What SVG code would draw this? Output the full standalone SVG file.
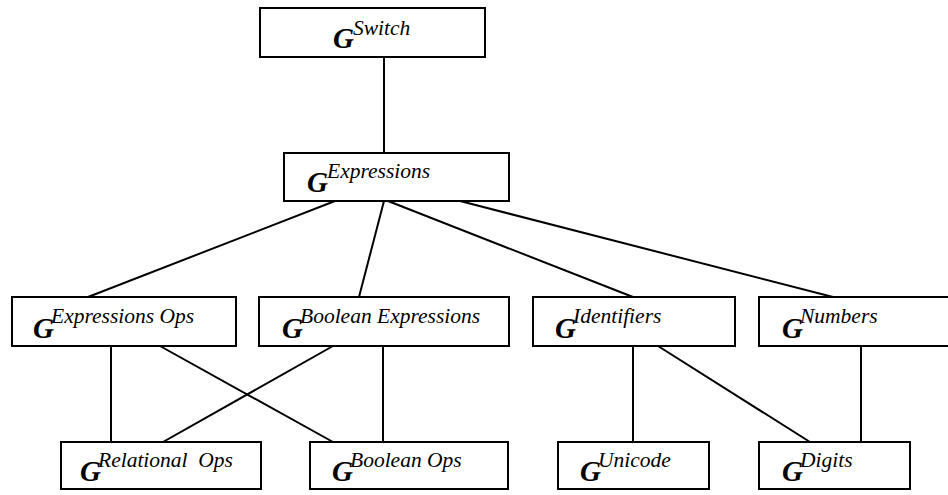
<svg xmlns="http://www.w3.org/2000/svg" width="948" height="495" viewBox="0 0 948 495">
<style>
.box{fill:#fff;stroke:#000;stroke-width:2}
.edge{stroke:#000;stroke-width:2;fill:none}
.g{font-family:"Liberation Serif",serif;font-style:italic;font-weight:bold;font-size:29px;fill:#000}
.s{font-family:"Liberation Serif",serif;font-style:italic;font-size:21.5px;fill:#000;white-space:pre}
</style>
<rect width="948" height="495" fill="#fff"/>
<g id="connectors">
<line class="edge" x1="384" y1="57" x2="384" y2="153"/>
<line class="edge" x1="335" y1="201" x2="88" y2="297"/>
<line class="edge" x1="384" y1="201" x2="359" y2="297"/>
<line class="edge" x1="388" y1="201" x2="633" y2="297"/>
<line class="edge" x1="460" y1="201" x2="833" y2="297"/>
<line class="edge" x1="111" y1="346" x2="111" y2="442"/>
<line class="edge" x1="160" y1="346" x2="333" y2="442"/>
<line class="edge" x1="333" y1="346" x2="163" y2="442"/>
<line class="edge" x1="383" y1="346" x2="383" y2="442"/>
<line class="edge" x1="633" y1="346" x2="633" y2="442"/>
<line class="edge" x1="658" y1="346" x2="810" y2="442"/>
<line class="edge" x1="861" y1="346" x2="861" y2="442"/>
</g>
<g id="switch">
<rect class="box" x="260" y="8" width="225" height="49"/>
<text class="g" x="333" y="48">G</text><text class="s" x="353" y="35">Switch</text>
</g>
<g id="expressions">
<rect class="box" x="284" y="153" width="225" height="48"/>
<text class="g" x="307" y="192">G</text><text class="s" x="327" y="178">Expressions</text>
</g>
<g id="expressions-ops">
<rect class="box" x="12" y="297" width="224" height="49"/>
<text class="g" x="33" y="338">G</text><text class="s" x="51" y="323">Expressions Ops</text>
</g>
<g id="boolean-expressions">
<rect class="box" x="259" y="297" width="250" height="49"/>
<text class="g" x="282" y="338">G</text><text class="s" x="300" y="323">Boolean Expressions</text>
</g>
<g id="identifiers">
<rect class="box" x="533" y="297" width="202" height="49"/>
<text class="g" x="555" y="338">G</text><text class="s" x="573" y="323">Identifiers</text>
</g>
<g id="numbers">
<rect class="box" x="759" y="297" width="232" height="49"/>
<text class="g" x="782" y="338">G</text><text class="s" x="800" y="323">Numbers</text>
</g>
<g id="relational-ops">
<rect class="box" x="61" y="442" width="200" height="47"/>
<text class="g" x="80" y="481">G</text><text class="s" x="98" y="467">Relational  Ops</text>
</g>
<g id="boolean-ops">
<rect class="box" x="310" y="442" width="198" height="47"/>
<text class="g" x="332" y="481">G</text><text class="s" x="350" y="467">Boolean Ops</text>
</g>
<g id="unicode">
<rect class="box" x="558" y="442" width="151" height="47"/>
<text class="g" x="580" y="481">G</text><text class="s" x="598" y="467">Unicode</text>
</g>
<g id="digits">
<rect class="box" x="759" y="442" width="151" height="47"/>
<text class="g" x="782" y="481">G</text><text class="s" x="800" y="467">Digits</text>
</g>
</svg>
